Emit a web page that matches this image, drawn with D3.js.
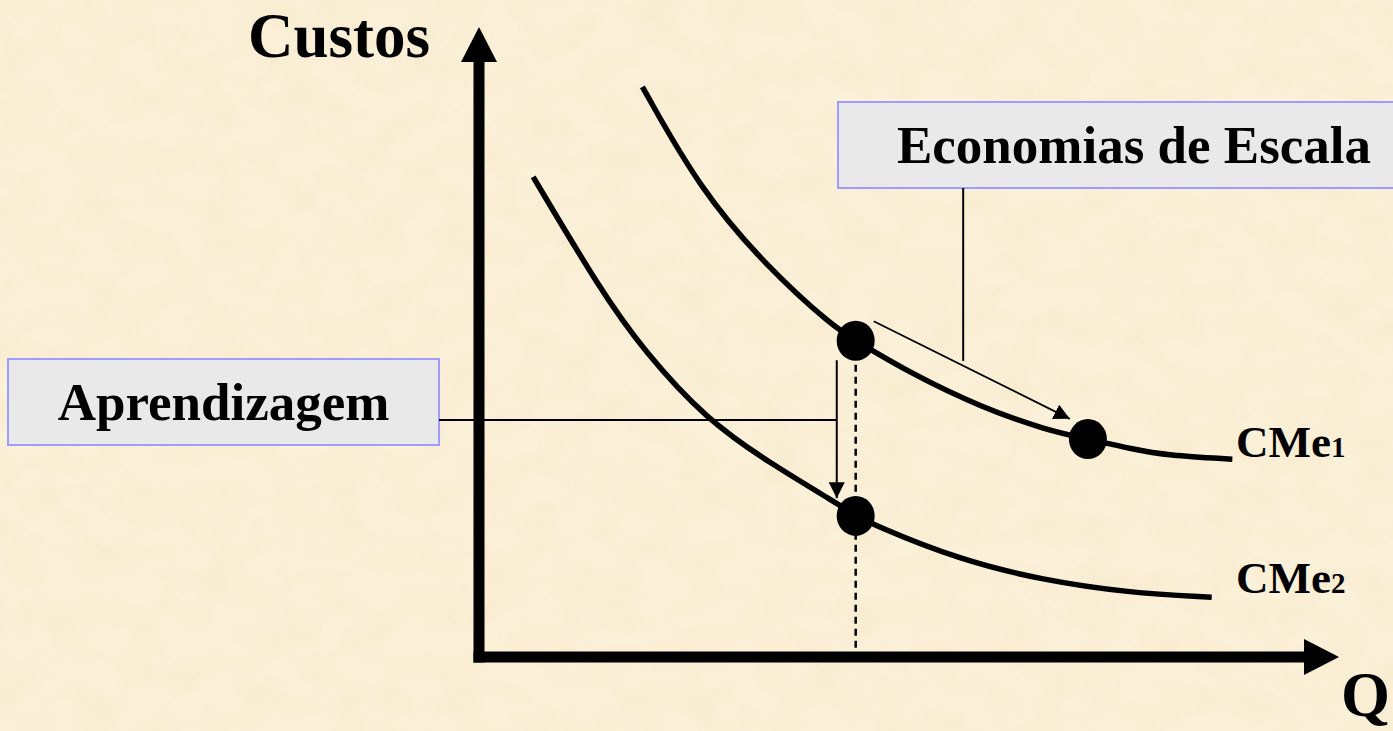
<!DOCTYPE html>
<html>
<head>
<meta charset="utf-8">
<script src="https://cdn.jsdelivr.net/npm/d3@7"></script>
<style>
  body { margin: 0; background: #fbf0d8; }
  svg { display: block; }
  text { font-family: "Liberation Serif", "Times New Roman", serif; font-weight: bold; fill: #000; }
</style>
</head>
<body>
<div id="chart"></div>
<script>
// curves (Q, custo) in arbitrary units 0..10
const cme1Q = [1.90, 2.57, 3.35, 4.12, 4.38, 5.05, 5.83, 6.60, 7.08, 7.60, 8.00, 8.76];
const cme1C = [9.05, 7.42, 6.19, 5.24, 5.02, 4.48, 3.97, 3.60, 3.46, 3.30, 3.20, 3.14];
const cme2Q = [0.63, 1.41, 1.91, 2.65, 3.38, 4.16, 4.38, 4.58, 5.59, 6.56, 7.54, 8.52];
const cme2C = [7.62, 5.83, 4.87, 3.76, 3.08, 2.44, 2.25, 2.10, 1.54, 1.22, 1.02, 0.95];

const pointQ = [4.38, 7.08, 4.38];
const pointC = [5.02, 3.46, 2.24];

const curveNames = ['CMe', 'CMe'];
const curveSubs = ['1', '2'];
const labelC = [3.17, 1.02];
const axisTitles = ['Custos', 'Q'];
const notes = ['Economias de Escala', 'Aprendizagem'];

const width = 1393, height = 731;

const x = d3.scaleLinear().domain([0, 10]).range([479, 1339]);
const y = d3.scaleLinear().domain([0, 10]).range([657, 27]);

const svg = d3.select('#chart').append('svg')
	.attr('width', width)
	.attr('height', height);

const defs = svg.append('defs');

// parchment mottling
const tex = defs.append('filter').attr('id', 'paper')
	.attr('x', 0).attr('y', 0).attr('width', '100%').attr('height', '100%');
tex.append('feTurbulence')
	.attr('type', 'fractalNoise')
	.attr('baseFrequency', '0.025 0.035')
	.attr('numOctaves', 3)
	.attr('seed', 7);
tex.append('feColorMatrix')
	.attr('type', 'matrix')
	.attr('values', '0 0 0 0 0.88  0 0 0 0 0.76  0 0 0 0 0.52  0.7 0 0 0 -0.26');

defs.append('marker')
	.attr('id', 'head')
	.attr('markerUnits', 'userSpaceOnUse')
	.attr('viewBox', '0 0 16 16')
	.attr('refX', 16).attr('refY', 8)
	.attr('markerWidth', 16).attr('markerHeight', 16)
	.attr('orient', 'auto')
	.append('path')
	.attr('d', 'M0,0L16,8L0,16Z')
	.attr('fill', '#000');

svg.append('rect').attr('width', width).attr('height', height).attr('fill', '#fbf0d8');
svg.append('rect').attr('width', width).attr('height', height).attr('filter', 'url(#paper)');

// note boxes
const boxes = svg.append('g');
boxes.append('rect')
	.attr('x', 838).attr('y', 102).attr('width', 600).attr('height', 86)
	.attr('fill', '#e9e9e9').attr('stroke', '#9d9dff').attr('stroke-width', 2);
boxes.append('text')
	.attr('x', 897).attr('y', 163)
	.style('font-size', '53px')
	.text(notes[0]);
boxes.append('rect')
	.attr('x', 8).attr('y', 359).attr('width', 431).attr('height', 86)
	.attr('fill', '#e9e9e9').attr('stroke', '#9d9dff').attr('stroke-width', 2);
boxes.append('text')
	.attr('x', 223.5).attr('y', 420)
	.attr('text-anchor', 'middle')
	.style('font-size', '53px')
	.text(notes[1]);

// connectors from the boxes
svg.append('line')
	.attr('x1', x(5.63)).attr('x2', x(5.63))
	.attr('y1', 188).attr('y2', y(4.70))
	.attr('stroke', '#000').attr('stroke-width', 2);
svg.append('line')
	.attr('x1', 439).attr('x2', x(4.16))
	.attr('y1', y(3.76)).attr('y2', y(3.76))
	.attr('stroke', '#000').attr('stroke-width', 2);

// axes
const axes = svg.append('g');
axes.append('line')
	.attr('x1', x(0)).attr('x2', x(0))
	.attr('y1', y(0) + 5.5).attr('y2', y(10) + 34)
	.attr('stroke', '#000').attr('stroke-width', 11);
axes.append('path')
	.attr('d', `M${x(0)},${y(10)}L${x(0) + 18},${y(10) + 35}L${x(0) - 18},${y(10) + 35}Z`)
	.attr('fill', '#000');
axes.append('line')
	.attr('x1', x(0) - 5.5).attr('x2', x(10) - 34)
	.attr('y1', y(0)).attr('y2', y(0))
	.attr('stroke', '#000').attr('stroke-width', 11);
axes.append('path')
	.attr('d', `M${x(10)},${y(0)}L${x(10) - 35},${y(0) - 18}L${x(10) - 35},${y(0) + 18}Z`)
	.attr('fill', '#000');

axes.append('text')
	.attr('x', x(0) - 49).attr('y', y(10) + 30)
	.attr('text-anchor', 'end')
	.style('font-size', '63px')
	.text(axisTitles[0]);
axes.append('text')
	.attr('x', x(10) + 2).attr('y', y(0) + 59)
	.style('font-size', '63px')
	.text(axisTitles[1]);

// dashed guide under the shifted point
svg.append('line')
	.attr('x1', x(pointQ[0])).attr('x2', x(pointQ[0]))
	.attr('y1', y(pointC[0])).attr('y2', y(0))
	.attr('stroke', '#000').attr('stroke-width', 2.5)
	.attr('stroke-dasharray', '7,5');

// cost curves
const line = d3.line()
	.x(d => x(d[0]))
	.y(d => y(d[1]))
	.curve(d3.curveBasis);

const curves = [d3.zip(cme1Q, cme1C), d3.zip(cme2Q, cme2C)];

svg.selectAll('.curve')
	.data(curves)
	.enter()
	.append('path')
	.attr('class', 'curve')
	.attr('d', line)
	.attr('fill', 'none')
	.attr('stroke', '#000')
	.attr('stroke-width', 5.5);

// movement arrows
svg.append('line')
	.attr('x1', x(4.59)).attr('y1', y(5.33))
	.attr('x2', x(6.87)).attr('y2', y(3.78))
	.attr('stroke', '#000').attr('stroke-width', 1.8)
	.attr('marker-end', 'url(#head)');
svg.append('line')
	.attr('x1', x(4.16)).attr('y1', y(4.71))
	.attr('x2', x(4.16)).attr('y2', y(2.52))
	.attr('stroke', '#000').attr('stroke-width', 2)
	.attr('marker-end', 'url(#head)');

svg.selectAll('.dot')
	.data(d3.zip(pointQ, pointC))
	.enter()
	.append('ellipse')
	.attr('class', 'dot')
	.attr('cx', d => x(d[0]))
	.attr('cy', d => y(d[1]))
	.attr('rx', 19)
	.attr('ry', 20)
	.attr('fill', '#000');

// curve labels
const labels = svg.selectAll('.curve-label')
	.data(curveNames)
	.enter()
	.append('text')
	.attr('class', 'curve-label')
	.attr('x', 1236)
	.attr('y', (d, i) => y(labelC[i]))
	.style('font-size', '45px')
	.text(d => d);
labels.append('tspan')
	.style('font-size', '29px')
	.text((d, i) => curveSubs[i]);
</script>
</body>
</html>
